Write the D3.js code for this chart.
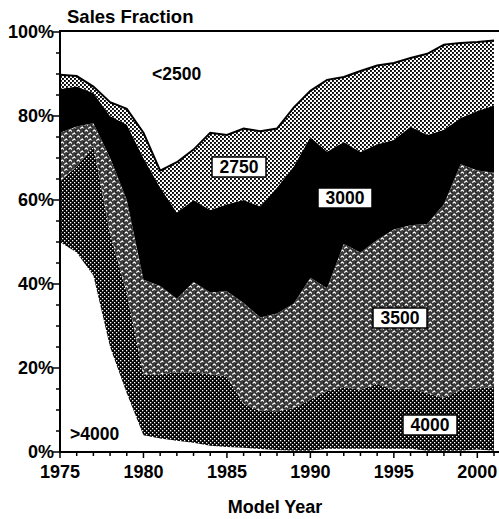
<!DOCTYPE html>
<html><head><meta charset="utf-8">
<script src="https://cdn.jsdelivr.net/npm/d3@7"></script>
<style>
html,body{margin:0;padding:0;background:#fff;}
svg{display:block;}
text{font-family:"Liberation Sans",Arial,Helvetica,sans-serif;font-weight:bold;fill:#000;}
</style></head>
<body>
<svg id="c" width="499" height="519"></svg>
<script>
const years = [1975,1976,1977,1978,1979,1980,1981,1982,1983,1984,1985,1986,1987,1988,1989,1990,1991,1992,1993,1994,1995,1996,1997,1998,1999,2000,2001];
const over4000  = [50,47.5,42,25,14,4,3.2,2.7,2.2,1.5,1.2,1,0.7,0.5,0.3,0.3,0.8,0.8,0.8,0.8,0.8,0.8,0.3,0.3,0.3,0.6,0.3];
const w4000     = [14.5,20.5,31,27,24,14.5,15.3,16.3,16.8,17,16.8,10.5,9.1,9.2,10.2,12.2,13.7,14.7,14,15.5,14,14.4,13.7,12.6,14.5,14.6,15.2];
const w3500     = [11.5,9.5,5.3,18,22,22.5,21,17.5,21.5,19.5,20.3,24,22.2,23.3,24.8,29,24.5,34,32.7,34.2,38.2,38.8,40.3,46.1,53.7,51.8,51];
const w3000     = [10.4,9.5,7.2,10,18,29,23.5,20.5,19.5,19.6,20.7,24.5,26.5,30,32.7,33.5,32.5,24.3,23.9,22.8,21.3,23.5,21.2,17.7,11,14.2,16];
const w2750     = [3.4,2.5,1.5,3.3,3.7,6,4,12,12,18.4,16.5,17,17.9,14,14,11,17.1,15.5,19.3,18.7,18.3,16.3,19.3,20.3,17.9,16.4,15.5];
const under2500 = [10.2,10.5,13,16.7,18.3,24,33,31,28,24,24.5,23,23.6,23,18,14,11.4,10.7,9.3,8,7.4,6.2,5.2,3,2.6,2.4,2];
const seriesKeys = [">4000","4000","3500","3000","2750","<2500"];
const seriesVals = [over4000,w4000,w3500,w3000,w2750,under2500];
const yTicks = [0,20,40,60,80,100];
const xTicks = [1975,1980,1985,1990,1995,2000];

const rows = years.map((yr,i)=>{const o={year:yr};seriesKeys.forEach((k,j)=>o[k]=seriesVals[j][i]);return o;});

const svg = d3.select("#c");
const x = d3.scaleLinear().domain([1975,2001]).range([60,494]);
const y = d3.scaleLinear().domain([0,100]).range([452,32]);

const defs = svg.append("defs");
// 4000: dark, fine white dots
const p1 = defs.append("pattern").attr("id","p4000").attr("patternUnits","userSpaceOnUse").attr("width",4).attr("height",4);
p1.append("rect").attr("width",4).attr("height",4).attr("fill","#000");
p1.append("rect").attr("x",0).attr("y",0).attr("width",1.3).attr("height",1.3).attr("fill","#fff");
p1.append("rect").attr("x",2).attr("y",2).attr("width",1.3).attr("height",1.3).attr("fill","#fff");
// 3500: dark with white squiggles and black vertical lines
const p2 = defs.append("pattern").attr("id","p3500").attr("patternUnits","userSpaceOnUse").attr("width",8).attr("height",6);
p2.append("rect").attr("width",8).attr("height",6).attr("fill","#3c3c3c");
p2.append("path").attr("d","M0.3,2.6 L2.3,1.1 L4.3,2.6 M4.3,5.6 L6.3,4.1 L8.3,5.6").attr("stroke","#fff").attr("stroke-width",1.2).attr("fill","none");
p2.append("rect").attr("x",3.6).attr("y",0).attr("width",0.8).attr("height",6).attr("fill","#000");
// 2750: light dotted
const p3 = defs.append("pattern").attr("id","p2750").attr("patternUnits","userSpaceOnUse").attr("width",4).attr("height",4);
p3.append("rect").attr("width",4).attr("height",4).attr("fill","#fff");
p3.append("rect").attr("x",0).attr("y",0).attr("width",1.9).attr("height",1.9).attr("fill","#000");
p3.append("rect").attr("x",2).attr("y",2).attr("width",1.9).attr("height",1.9).attr("fill","#000");

const fills = {">4000":"#fff","4000":"url(#p4000)","3500":"url(#p3500)","3000":"#000","2750":"url(#p2750)","<2500":"#fff"};

const stacked = d3.stack().keys(seriesKeys)(rows);
const area = d3.area().x(d=>x(d.data.year)).y0(d=>y(d[0])).y1(d=>y(d[1]));

svg.append("g").selectAll("path").data(stacked).join("path")
  .attr("d",area).attr("fill",d=>fills[d.key]).attr("stroke","none");

// outline on top of 2750 layer
const top2750 = stacked[4];
svg.append("path").attr("d",d3.line().x(d=>x(d.data.year)).y(d=>y(d[1]))(top2750))
  .attr("fill","none").attr("stroke","#000").attr("stroke-width",2);

// axes lines
svg.append("line").attr("x1",60).attr("x2",499).attr("y1",y(100)-1).attr("y2",y(100)-1).attr("stroke","#000").attr("stroke-width",2);
svg.append("line").attr("x1",60).attr("x2",60).attr("y1",y(100)-2).attr("y2",y(0)+1).attr("stroke","#000").attr("stroke-width",2);
svg.append("line").attr("x1",59).attr("x2",499).attr("y1",y(0)).attr("y2",y(0)).attr("stroke","#000").attr("stroke-width",2);

// y ticks
const yMinor = d3.range(0,101,5);
svg.append("g").selectAll("line").data(yMinor).join("line")
  .attr("x1",d=>d%20===0?53:56).attr("x2",60).attr("y1",d=>y(d)).attr("y2",d=>y(d))
  .attr("stroke","#000").attr("stroke-width",1.5);
svg.append("g").selectAll("text").data(yTicks).join("text")
  .attr("x",54).attr("y",d=>y(d)+6).attr("text-anchor","end").attr("font-size",18)
  .text(d=>d+"%");

// x ticks
const xMinor = years;
svg.append("g").selectAll("line").data(xMinor).join("line")
  .attr("x1",d=>x(d)).attr("x2",d=>x(d)).attr("y1",y(0)).attr("y2",d=>d%5===0?y(0)+6:y(0)+4)
  .attr("stroke","#000").attr("stroke-width",1.5);
svg.append("g").selectAll("text").data(xTicks).join("text")
  .attr("x",d=>x(d)).attr("y",478).attr("text-anchor","middle").attr("font-size",18)
  .text(d=>d);

// titles
svg.append("text").attr("x",67).attr("y",23).attr("font-size",18.5).text("Sales Fraction");
svg.append("text").attr("x",275).attr("y",513).attr("text-anchor","middle").attr("font-size",18).text("Model Year");

// series labels
svg.append("text").attr("x",152).attr("y",80).attr("font-size",17.5).text("<2500");
svg.append("text").attr("x",70).attr("y",440).attr("font-size",17.5).text(">4000");
const boxes = [
  {t:"2750",x:212,y:157},
  {t:"3000",x:318,y:188},
  {t:"3500",x:373,y:308},
  {t:"4000",x:403,y:415}
];
const bg = svg.append("g").selectAll("g").data(boxes).join("g");
bg.append("rect").attr("x",d=>d.x).attr("y",d=>d.y).attr("width",54).attr("height",20)
  .attr("fill","#fff").attr("stroke","#000").attr("stroke-width",1.5);
bg.append("text").attr("x",d=>d.x+27).attr("y",d=>d.y+16).attr("text-anchor","middle").attr("font-size",17.5).text(d=>d.t);
</script>
</body></html>
